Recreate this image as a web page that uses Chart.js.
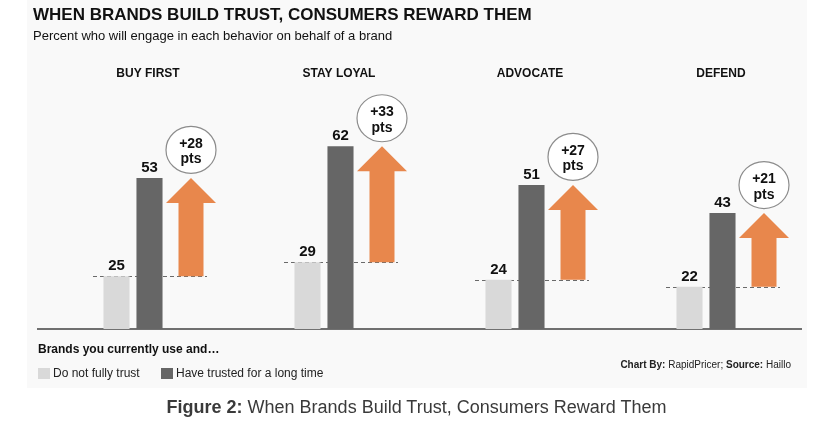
<!DOCTYPE html>
<html>
<head>
<meta charset="utf-8">
<script src="https://cdn.jsdelivr.net/npm/chart.js@4.4.1/dist/chart.umd.min.js"></script>
<style>
    body { margin: 0; background: #ffffff; font-family: "Liberation Sans", Arial, sans-serif; }
    #page { position: relative; width: 833px; height: 423px; overflow: hidden; }
    #panel { position: absolute; left: 27px; top: 0; width: 780px; height: 388px; background: #f9f9f9; }
    #chartBox { position: absolute; left: 0; top: 0; width: 833px; height: 423px; }
    .txt { position: absolute; white-space: nowrap; color: #111; }
    .title { left: 33px; top: 5px; font-size: 17px; line-height: 20px; font-weight: bold; }
    .subtitle { left: 33px; top: 28px; font-size: 13px; line-height: 16px; }
    .legend-head { left: 38px; top: 342px; font-size: 12px; line-height: 14px; font-weight: bold; }
    .legend-item { top: 365.5px; font-size: 12px; line-height: 14px; color: #222; }
    .swatch { position: absolute; top: 367.5px; width: 12px; height: 11px; }
    .credits { right: 42px; top: 358.5px; font-size: 10px; line-height: 12px; color: #222; }
    .caption { left: 0; width: 833px; text-align: center; top: 395.5px; font-size: 18px; line-height: 22px; color: #3a3a3a; }
</style>
</head>
<body>
<div id="page">
    <div id="panel"></div>
    <div id="chartBox"><canvas id="trustChart"></canvas></div>

    <div class="txt title">WHEN BRANDS BUILD TRUST, CONSUMERS REWARD THEM</div>
    <div class="txt subtitle">Percent who will engage in each behavior on behalf of a brand</div>

    <div class="txt legend-head">Brands you currently use and…</div>
    <div class="swatch" style="left:38px; background:#d9d9d9;"></div>
    <div class="txt legend-item" style="left:53px;">Do not fully trust</div>
    <div class="swatch" style="left:161px; background:#666666;"></div>
    <div class="txt legend-item" style="left:176px;">Have trusted for a long time</div>

    <div class="txt credits"><b>Chart By:</b> RapidPricer; <b>Source:</b> Haillo</div>
    <div class="txt caption"><b>Figure 2:</b> When Brands Build Trust, Consumers Reward Them</div>
</div>

<script>
// ===================== DATA =====================

const categories = ['BUY FIRST', 'STAY LOYAL', 'ADVOCATE', 'DEFEND'];
const notFullyTrust = [25, 29, 24, 22];
const trustedLongTime = [53, 62, 51, 43];

const LIGHT = '#d9d9d9';
const DARK = '#666666';
const ORANGE = '#e8874c';
const FONT = '"Liberation Sans", Arial, sans-serif';

// ===================== ANNOTATIONS =====================

// dashed guide at the "not fully trust" level, drawn behind the bars
const guideLines = {
    id: 'guideLines',
    beforeDatasetsDraw(chart) {
        const { ctx, scales: { x, y } } = chart;
        ctx.save();
        ctx.strokeStyle = '#6a6a6a';
        ctx.lineWidth = 1;
        ctx.setLineDash([4, 3]);
        categories.forEach((cat, i) => {
            const c = x.getPixelForValue(i);
            const yy = Math.round(y.getPixelForValue(notFullyTrust[i])) + 0.5;
            ctx.beginPath();
            ctx.moveTo(c - 40, yy);
            ctx.lineTo(c + 74, yy);
            ctx.stroke();
        });
        ctx.restore();
    }
};

// value labels, gain arrows, circled "+N pts" and the group headings
const gainArrows = {
    id: 'gainArrows',
    afterDatasetsDraw(chart) {
        const { ctx, scales: { x, y } } = chart;
        ctx.save();
        ctx.textAlign = 'center';
        ctx.textBaseline = 'alphabetic';

        [0, 1].forEach(d => {
            const values = d === 0 ? notFullyTrust : trustedLongTime;
            chart.getDatasetMeta(d).data.forEach((bar, i) => {
                ctx.fillStyle = '#111';
                ctx.font = 'bold 15px ' + FONT;
                ctx.fillText(values[i], bar.x, bar.y - 6);
            });
        });

        categories.forEach((cat, i) => {
            const c = x.getPixelForValue(i);
            const ax = c + 58;
            const yTop = y.getPixelForValue(trustedLongTime[i]);
            const yBot = y.getPixelForValue(notFullyTrust[i]);

            // arrow
            ctx.fillStyle = ORANGE;
            ctx.beginPath();
            ctx.moveTo(ax, yTop);
            ctx.lineTo(ax + 25, yTop + 25);
            ctx.lineTo(ax + 12.5, yTop + 25);
            ctx.lineTo(ax + 12.5, yBot);
            ctx.lineTo(ax - 12.5, yBot);
            ctx.lineTo(ax - 12.5, yTop + 25);
            ctx.lineTo(ax - 25, yTop + 25);
            ctx.closePath();
            ctx.fill();

            // circled gain
            const cy = yTop - 28;
            ctx.beginPath();
            ctx.ellipse(ax, cy, 25, 23.5, 0, 0, Math.PI * 2);
            ctx.fillStyle = '#ffffff';
            ctx.fill();
            ctx.strokeStyle = '#8c8c8c';
            ctx.lineWidth = 1.2;
            ctx.stroke();

            ctx.fillStyle = '#111';
            ctx.font = 'bold 14px ' + FONT;
            ctx.fillText('+' + (trustedLongTime[i] - notFullyTrust[i]), ax, cy - 2);
            ctx.fillText('pts', ax, cy + 13.5);

            // group heading
            ctx.font = 'bold 12px ' + FONT;
            ctx.fillText(cat, c + 15, 76.5);
        });
        ctx.restore();
    }
};

// ===================== CHART =====================

const trustCtx = document.getElementById('trustChart');

new Chart(trustCtx, {
    type: 'bar',
    data: {
        labels: categories,
        datasets: [
            {
                label: 'Do not fully trust',
                data: notFullyTrust,
                backgroundColor: LIGHT,
                barPercentage: 0.79,
                categoryPercentage: 0.3455
            },
            {
                label: 'Have trusted for a long time',
                data: trustedLongTime,
                backgroundColor: DARK,
                barPercentage: 0.79,
                categoryPercentage: 0.3455
            }
        ]
    },
    options: {
        responsive: true,
        maintainAspectRatio: false,
        animation: false,
        layout: {
            padding: { left: 37.5, right: 31.5, top: 83, bottom: 94 }
        },
        plugins: {
            legend: { display: false },
            tooltip: { enabled: false }
        },
        scales: {
            x: {
                grid: { display: false, drawTicks: false },
                ticks: { display: false },
                border: { display: true, color: '#707070', width: 2 }
            },
            y: {
                display: false,
                min: 10,
                max: 80
            }
        }
    },
    plugins: [guideLines, gainArrows]
});
</script>
</body>
</html>
